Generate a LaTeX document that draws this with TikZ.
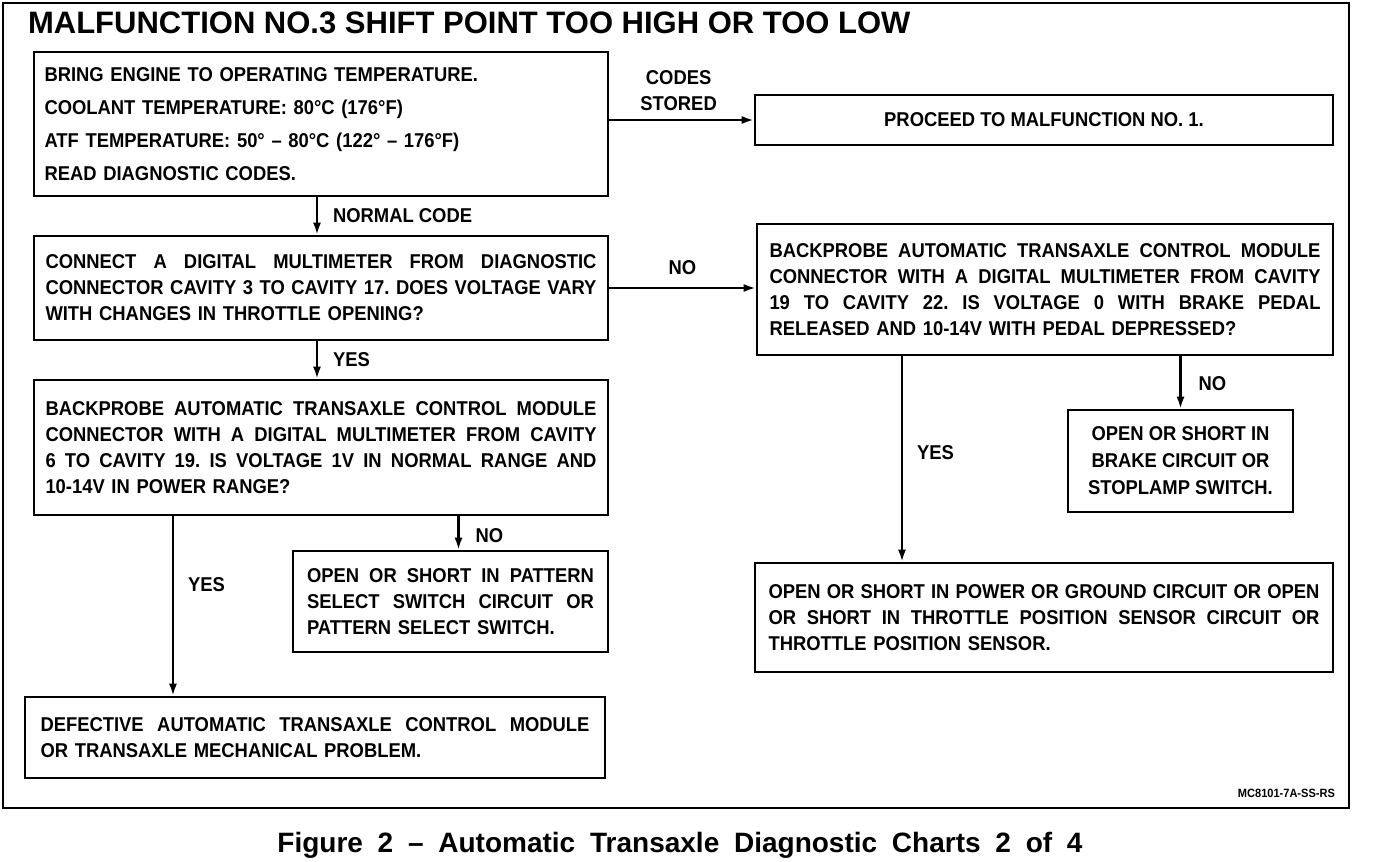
\documentclass[tikz,border=0pt]{standalone}
\usepackage{fontspec}
\setmainfont{Liberation Sans}
\newfontfamily\chartfont{Liberation Sans}[FakeStretch=0.92]
\newfontfamily\capfont{Liberation Sans}[WordSpace=1.9]
\usetikzlibrary{arrows.meta}
\setlength{\parindent}{0pt}
\frenchspacing
\newcommand{\jl}[2][551pt]{{\spaceskip=.25em plus 1fil\xspaceskip=0pt\makebox[#1][s]{#2}}}

\begin{document}
\begin{tikzpicture}[x=1pt,y=-1pt,line width=2.2pt,
 >={Latex[length=12pt,width=8pt]},
 b/.style={draw,line width=2.6pt,inner sep=0pt,align=left,
   font=\chartfont\bfseries\fontsize{20}{26}\selectfont},
 lbl/.style={inner sep=0pt,font=\chartfont\bfseries\fontsize{20}{26}\selectfont}]
\useasboundingbox (0,0) rectangle (1376,862);
% Frame, title and caption.
\draw[line width=2.6pt] (3,3) rectangle (1349,808);
\node[anchor=west,inner sep=0pt,font=\bfseries\fontsize{31}{31}\selectfont] (title) at (27,23)
 {MALFUNCTION NO.3 SHIFT POINT TOO HIGH OR TOO LOW};
\node[anchor=east,inner sep=0pt,font=\chartfont\bfseries\fontsize{12}{12}\selectfont] (code) at (1336,793) {MC8101-7A-SS-RS};
\node[inner sep=0pt,font=\capfont\bfseries\fontsize{28}{28}\selectfont] (cap) at (680,845)
 {Figure 2 – Automatic Transaxle Diagnostic Charts 2 of 4};
% Left column.
\node[b,minimum width=574pt,minimum height=144pt,text width=553pt,
 font=\chartfont\bfseries\fontsize{20}{33}\selectfont] (temp) at (321,124)
 {BRING ENGINE TO OPERATING TEMPERATURE.\\
  COOLANT TEMPERATURE: 80°C (176°F)\\
  ATF TEMPERATURE: 50° – 80°C (122° – 176°F)\\
  READ DIAGNOSTIC CODES.};
\node[b,minimum width=574pt,minimum height=104pt,text width=551pt] (tps) at (321,288)
 {\jl{CONNECT A DIGITAL MULTIMETER FROM DIAGNOSTIC}\\
  \jl{CONNECTOR CAVITY 3 TO CAVITY 17. DOES VOLTAGE VARY}\\
  WITH CHANGES IN THROTTLE OPENING?};
\node[b,minimum width=574pt,minimum height=135pt,text width=551pt] (pat) at (321,447.5)
 {\jl{BACKPROBE AUTOMATIC TRANSAXLE CONTROL MODULE}\\
  \jl{CONNECTOR WITH A DIGITAL MULTIMETER FROM CAVITY}\\
  \jl{6 TO CAVITY 19. IS VOLTAGE 1V IN NORMAL RANGE AND}\\
  10-14V IN POWER RANGE?};
\node[b,minimum width=315pt,minimum height=101pt,text width=287pt] (patsw) at (450.5,601.5)
 {\jl[287pt]{OPEN OR SHORT IN PATTERN}\\
  \jl[287pt]{SELECT SWITCH CIRCUIT OR}\\
  PATTERN SELECT SWITCH.};
\node[b,minimum width=580pt,minimum height=81pt,text width=549pt] (tcm) at (315,737.5)
 {\jl[549pt]{DEFECTIVE AUTOMATIC TRANSAXLE CONTROL MODULE}\\
  OR TRANSAXLE MECHANICAL PROBLEM.};
% Right column.
\node[b,minimum width=578pt,minimum height=50pt,align=center] (mal1) at (1044,120)
 {PROCEED TO MALFUNCTION NO. 1.};
\node[b,minimum width=576pt,minimum height=131pt,text width=551pt] (brk) at (1045,289.5)
 {\jl{BACKPROBE AUTOMATIC TRANSAXLE CONTROL MODULE}\\
  \jl{CONNECTOR WITH A DIGITAL MULTIMETER FROM CAVITY}\\
  \jl{19 TO CAVITY 22. IS VOLTAGE 0 WITH BRAKE PEDAL}\\
  RELEASED AND 10-14V WITH PEDAL DEPRESSED?};
\node[b,minimum width=225pt,minimum height=102pt,align=center,
 font=\chartfont\bfseries\fontsize{20}{27}\selectfont] (brksw) at (1180.5,461)
 {OPEN OR SHORT IN\\BRAKE CIRCUIT OR\\STOPLAMP SWITCH.};
\node[b,minimum width=578pt,minimum height=109pt,text width=551pt] (tpsc) at (1044,617.5)
 {\jl{OPEN OR SHORT IN POWER OR GROUND CIRCUIT OR OPEN}\\
  \jl{OR SHORT IN THROTTLE POSITION SENSOR CIRCUIT OR}\\
  THROTTLE POSITION SENSOR.};
% Connectors.
\draw[->] (temp.east |- mal1.west) -- node[lbl,align=center,pos=.48,above=8pt] {CODES\\STORED} (mal1.west);
\draw[->] ([xshift=-4pt]temp.south) -- node[lbl,anchor=west,xshift=15pt] {NORMAL CODE} ([xshift=-4pt]tps.north);
\draw[->] (tps.east) -- node[lbl,above=12pt] {NO} (tps.east -| brk.west);
\draw[->] ([xshift=-4pt]tps.south) -- node[lbl,anchor=west,xshift=15pt] {YES} ([xshift=-4pt]pat.north);
\draw[->] ([xshift=8pt]patsw.north |- pat.south) -- node[lbl,anchor=west,xshift=16pt,yshift=-3pt] {NO} ([xshift=8pt]patsw.north);
\draw[->] ([xshift=-148pt]pat.south) -- node[lbl,anchor=west,xshift=14pt,pos=.38] {YES} ([xshift=-148pt]pat.south |- tcm.north);
\draw[->] (brksw.north |- brk.south) -- node[lbl,anchor=west,xshift=17pt,yshift=-1pt] {NO} (brksw.north);
\draw[->] ([xshift=-143pt]brk.south) -- node[lbl,anchor=west,xshift=14pt,pos=.47] {YES} ([xshift=-143pt]brk.south |- tpsc.north);
\end{tikzpicture}
\end{document}
